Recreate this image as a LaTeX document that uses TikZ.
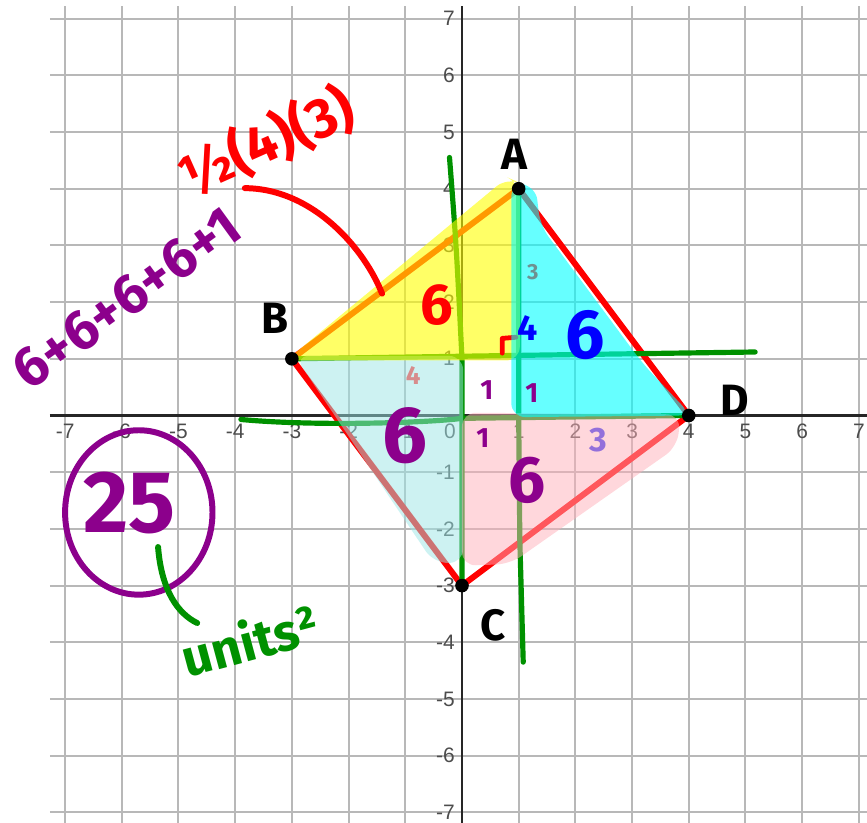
\documentclass[tikz,border=0pt]{standalone}
\usepackage{fontspec}
\setsansfont{Liberation Sans}
\newfontfamily\handfont{Fira Sans}
\usetikzlibrary{positioning}
\definecolor{penred}{RGB}{255,0,0}
\definecolor{penpurple}{RGB}{140,0,140}
\definecolor{pengreen}{RGB}{0,145,0}
\definecolor{penblue}{RGB}{0,0,255}
\definecolor{penlilac}{RGB}{147,112,219}
\definecolor{pensalmon}{RGB}{215,140,140}
\definecolor{pengrey}{RGB}{110,145,145}
\definecolor{hlyellow}{RGB}{255,255,0}
\definecolor{hlcyan}{RGB}{0,255,255}
\definecolor{hlpale}{RGB}{155,230,230}
\definecolor{hlpink}{RGB}{255,175,185}
\tikzset{every picture/.style={line width=0.75pt}}
\tikzset{
  gridline/.style={black!28, line width=1pt},
  axisline/.style={black!85, line width=1.1pt},
  axlabel/.style={font=\sffamily\fontsize{10.5}{12}\selectfont, text=black!70, inner sep=1pt},
  marker/.style={line width=3pt, line cap=round, line join=round},
  hilite/.style={opacity=0.6, rounded corners=7pt},
  scrawl/.style={font=\handfont\bfseries\fontsize{#1}{#1}\selectfont, inner sep=0pt}
}

\begin{document}
\begin{tikzpicture}
\useasboundingbox (-8.148,-7.187) rectangle (7.143,7.328);
\draw[gridline] (-7.27,-7.187) grid (7.143,7.22);
\draw[axisline] (-7.27,0) -- (7.143,0);
\draw[axisline] (0,-7.187) -- (0,7.22);
\foreach \x in {-7,...,-1,1,2,...,7}
  \node[axlabel, anchor=north] (xl\x) at (\x,-0.1) {\x};
\foreach \y in {-7,...,-1,1,2,...,7}
  \node[axlabel, anchor=east] (yl\y) at (-0.08,\y) {\y};
\node[axlabel, anchor=north east] (orig) at (-0.06,-0.1) {0};

\coordinate (A) at (1,4);
\coordinate (B) at (-3,1);
\coordinate (C) at (0,-3);
\coordinate (D) at (4,0);
\coordinate (halfstart) at (-3.83,4.01);
\coordinate (halfend) at (-1.41,2.15);
\coordinate (unitstart) at (-5.36,-2.32);
\coordinate (unitend) at (-4.67,-3.66);

\draw[marker, penred] (A) -- (D) -- (C) -- (B) -- cycle;

\draw[marker, pengreen, line width=2.6pt] (-0.22,4.55) .. controls (-0.1,3) .. (0,1) -- (C);
\draw[marker, pengreen, line width=2.6pt] (A) -- (1,0) -- (1.02,-2.2) -- (1.08,-4.35);
\draw[marker, pengreen, line width=2.6pt] (B) -- (1,1.06) -- (5.17,1.12);
\draw[marker, pengreen, line width=2.6pt] (-3.9,-0.07) .. controls (-2.5,-0.2) and (-0.5,-0.12) .. (0,-0.05) -- (D);

\fill[hilite, fill=hlpale, opacity=0.5] (-2.95,1.05) -- (0.02,1.05) -- (0.02,-2.6) -- (-0.5,-2.6) -- cycle;
\fill[hilite, fill=hlpink, opacity=0.5] (0,0.05) -- (3.85,0.02) -- (3.8,-0.55) -- (0.85,-2.62) -- (0,-2.65) -- cycle;
\fill[hilite, fill=hlyellow] (-3.1,0.97) -- (0.8,4.2) -- (1.02,4.1) -- (1.02,0.97) -- cycle;
\draw[marker, penred, line width=2.4pt] (0.71,1.1) -- (0.71,1.36) -- (0.95,1.38);
\fill[hilite, fill=hlcyan] (0.87,4.1) -- (1.3,4.05) -- (1.38,3.35) -- (3.2,0.9) -- (4.05,0) -- (0.87,-0.03) -- cycle;

\foreach \v in {A,B,C,D}
  \fill (\v) circle (0.12);

\node[scrawl=22] (labA) at (0.93,4.6) {A};
\node[scrawl=22] (labB) at (-3.3,1.72) {B};
\node[scrawl=22] (labC) at (0.55,-3.7) {C};
\node[scrawl=22] (labD) at (4.81,0.27) {D};

\node[scrawl=29, text=penred] (sixAB) at (-0.44,1.95) {6};
\node[scrawl=11, text=pengrey] (threeAD) at (1.25,2.53) {3};
\node[scrawl=18, text=penblue] (fourAD) at (1.15,1.54) {4};
\node[scrawl=35, text=penblue] (sixAD) at (2.17,1.42) {6};
\node[scrawl=13, text=pensalmon] (fourBC) at (-0.86,0.71) {4};
\node[scrawl=40, text=penpurple] (sixBC) at (-1.0,-0.35) {6};
\node[scrawl=33, text=penpurple] (sixCD) at (1.15,-1.14) {6};
\node[scrawl=17, text=penlilac] (threeCD) at (2.4,-0.43) {3};
\node[scrawl=14, text=penpurple] (oneA) at (0.44,0.45) {1};
\node[scrawl=14, text=penpurple] (oneB) at (1.23,0.4) {1};
\node[scrawl=14, text=penpurple] (oneC) at (0.37,-0.4) {1};

\node[scrawl=28, text=penred, rotate=24] (half) at (-3.45,4.82) {½(4)(3)};
\draw[marker, penred] (halfstart) .. controls (-2.6,4.0) and (-1.7,2.9) .. (halfend);
\node[scrawl=28, text=penpurple, rotate=36] (sum) at (-5.92,2.07) {6+6+6+6+1};
\node[scrawl=44, text=penpurple] (total) at (-5.86,-1.54) {25};
\draw[marker, penpurple] (-5.70,-1.71) ellipse (1.3 and 1.45);
\draw[marker, pengreen] (unitstart) .. controls (-5.3,-3.1) and (-5.0,-3.5) .. (unitend);
\node[scrawl=26, text=pengreen, rotate=15] (unit) at (-3.74,-3.96) {units²};
\end{tikzpicture}
\end{document}
